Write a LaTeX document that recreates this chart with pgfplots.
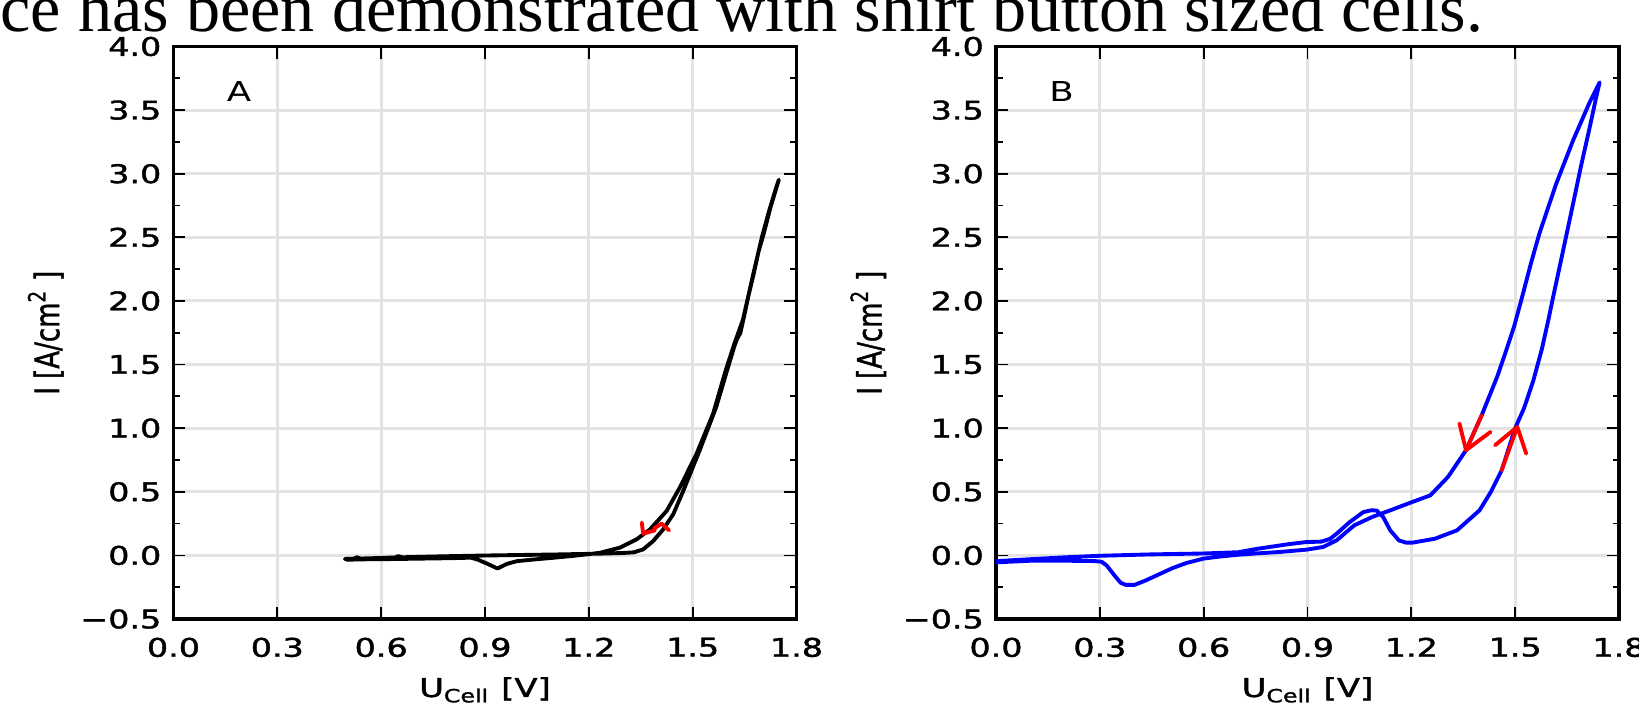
\documentclass[border=0pt]{standalone}
\usepackage{fontspec}
\setmainfont{DejaVu Sans}[BoldFont={DejaVu Sans}, BoldFeatures={FakeBold=1.4}]
\newfontfamily\serifbody{Liberation Serif}
\usepackage{graphicx}
\usepackage{pgfplots}
\pgfplotsset{compat=1.18}

% the scanned figure is stretched sideways
\newcommand\sx[1]{\scalebox{1.3}[1]{#1}}

\pgfplotsset{
  cvpanel/.style={
    scale only axis,
    width=6.23cm, height=5.725cm,
    xmin=0, xmax=1.8, ymin=-0.5, ymax=4.0,
    xtick={0,0.3,0.6,0.9,1.2,1.5,1.8},
    xticklabels={\sx{0.0},\sx{0.3},\sx{0.6},\sx{0.9},\sx{1.2},\sx{1.5},\sx{1.8}},
    ytick={-0.5,0,0.5,1,1.5,2,2.5,3,3.5,4},
    yticklabels={\sx{−0.5},\sx{0.0},\sx{0.5},\sx{1.0},\sx{1.5},\sx{2.0},\sx{2.5},\sx{3.0},\sx{3.5},\sx{4.0}},
    minor y tick num=1,
    tick align=inside,
    tick pos=both,
    major tick length=0.12cm,
    minor tick length=0.065cm,
    every tick/.style={black, line width=0.5pt},
    grid=major,
    major grid style={draw=black!11, line width=0.85pt},
    axis line style={line width=1.1pt},
    tick label style={font=\bfseries\fontsize{7.3}{8}\selectfont, inner sep=0pt},
    xticklabel style={yshift=-0.18cm},
    yticklabel style={xshift=-0.115cm},
    label style={font=\bfseries\fontsize{7.4}{8}\selectfont, inner sep=0pt},
    xlabel={\sx{U\textsubscript{Cell} [V]}},
    ylabel={\scalebox{1}[1.3]{I [A/cm\textsuperscript{2} ]}},
    xlabel style={at={(axis description cs:0.5,-0.1362)}, anchor=base},
    ylabel style={at={(axis description cs:-0.205,0.5)}, anchor=center},
  },
  cvline/.style={line width=1.1pt, line join=round, line cap=round},
}

\begin{document}
\begin{tikzpicture}
\node[anchor=base west, inner sep=0pt, font=\serifbody\fontsize{19.4}{22}\selectfont]
  at (0,6.72) {ce has been demonstrated with shirt button sized cells.};

% ---------- panel A ----------
\begin{axis}[cvpanel, at={(1.735cm,0.85cm)}, anchor=south west]
\addplot[black, cvline] coordinates {
  (0.495,-0.028) (0.52,-0.026) (0.53,-0.015) (0.54,-0.025) (0.6,-0.02)
  (0.64,-0.016) (0.65,-0.006) (0.66,-0.015) (0.7,-0.012) (0.8,-0.006)
  (0.9,-0.001) (1.0,0.003) (1.1,0.007) (1.2,0.012) (1.25,0.015)
  (1.3,0.019) (1.33,0.024) (1.357,0.047) (1.386,0.113) (1.415,0.205)
  (1.444,0.324) (1.473,0.508) (1.52,0.824) (1.568,1.166) (1.599,1.45)
  (1.62,1.64) (1.628,1.70) (1.638,1.75) (1.647,1.86) (1.662,2.05)
  (1.676,2.21) (1.691,2.395) (1.705,2.526) (1.725,2.737) (1.749,2.953)
  (1.74,2.88) (1.72,2.70) (1.70,2.50) (1.675,2.21) (1.645,1.85)
  (1.62,1.66) (1.595,1.45) (1.559,1.113) (1.511,0.797) (1.463,0.534)
  (1.425,0.35) (1.377,0.205) (1.338,0.126) (1.29,0.061) (1.233,0.021)
  (1.2,0.01) (1.15,-0.005) (1.1,-0.018) (1.05,-0.03) (0.993,-0.045)
  (0.964,-0.066) (0.936,-0.103) (0.907,-0.066) (0.878,-0.032) (0.859,-0.018)
  (0.8,-0.022) (0.7,-0.026) (0.6,-0.03) (0.55,-0.031) (0.5,-0.034)
};
\addplot[red, cvline] coordinates {(1.353,0.258) (1.357,0.171) (1.391,0.197)};
\addplot[red, cvline] coordinates {(1.388,0.21) (1.41,0.25) (1.432,0.197)};
\node[anchor=base west, inner sep=0pt, font=\fontsize{7.8}{9}\selectfont]
  at (axis cs:0.152,3.567) {\sx{A}};
\end{axis}

% ---------- panel B ----------
\begin{axis}[cvpanel, at={(9.96cm,0.85cm)}, anchor=south west]
\addplot[blue, cvline] coordinates {
  (0,-0.045) (0.1,-0.03) (0.2,-0.015) (0.3,-0.003) (0.45,0.008)
  (0.6,0.015) (0.7,0.025) (0.751,0.05) (0.842,0.087) (0.897,0.105)
  (0.94,0.108) (0.965,0.13) (0.984,0.17) (1.022,0.262) (1.061,0.34)
  (1.085,0.355) (1.10,0.352) (1.119,0.30) (1.139,0.197) (1.164,0.118)
  (1.185,0.10) (1.203,0.10) (1.268,0.131) (1.332,0.197) (1.397,0.354)
  (1.43,0.5) (1.461,0.669) (1.5,1.0) (1.526,1.16) (1.552,1.37)
  (1.577,1.62) (1.595,1.84) (1.612,2.06) (1.638,2.39) (1.667,2.76)
  (1.691,3.07) (1.715,3.36) (1.734,3.6) (1.744,3.718)
  (1.715,3.56) (1.667,3.26) (1.618,2.917) (1.57,2.53) (1.545,2.29)
  (1.52,2.03) (1.497,1.80) (1.474,1.61) (1.448,1.404) (1.403,1.10)
  (1.358,0.827) (1.306,0.617) (1.255,0.472) (1.203,0.42) (1.139,0.354)
  (1.087,0.302) (1.035,0.236) (0.984,0.118) (0.945,0.066) (0.897,0.045)
  (0.816,0.026) (0.75,0.015) (0.7,0.005) (0.65,-0.008) (0.6,-0.025)
  (0.55,-0.06) (0.51,-0.1) (0.47,-0.15) (0.43,-0.2) (0.40,-0.232)
  (0.375,-0.232) (0.36,-0.215) (0.34,-0.15) (0.32,-0.08) (0.305,-0.05)
  (0.287,-0.045) (0.2,-0.042) (0.1,-0.042) (0,-0.055)
};
\addplot[red, cvline] coordinates {(1.403,1.10) (1.358,0.827)};
\addplot[red, cvline] coordinates {(1.339,1.037) (1.358,0.827) (1.429,0.971)};
\addplot[red, cvline] coordinates {(1.461,0.669) (1.506,1.01)};
\addplot[red, cvline] coordinates {(1.442,0.866) (1.506,1.01) (1.532,0.80)};
\node[anchor=base west, inner sep=0pt, font=\fontsize{7.8}{9}\selectfont]
  at (axis cs:0.152,3.567) {\sx{B}};
\end{axis}

\pgfresetboundingbox
\useasboundingbox (0,0) rectangle (16.39,7.04);
\end{tikzpicture}
\end{document}
